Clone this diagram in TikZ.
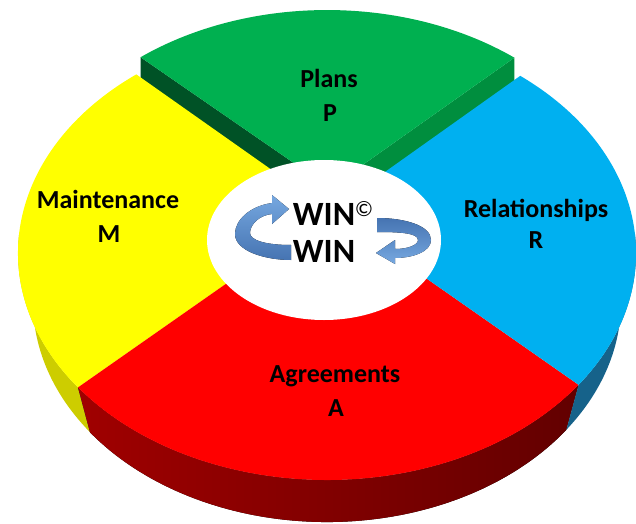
\documentclass[tikz,border=0pt]{standalone}
\usepackage{fontspec}
\setmainfont{Carlito}
\definecolor{pgreen}{RGB}{0,176,80}
\definecolor{pgreenL}{RGB}{0,82,38}
\definecolor{pgreenR}{RGB}{0,142,62}
\definecolor{pyellow}{RGB}{255,255,0}
\definecolor{pyellowS}{RGB}{205,205,0}
\definecolor{pblue}{RGB}{0,176,240}
\definecolor{pblueS}{RGB}{22,98,138}
\definecolor{pred}{RGB}{255,0,0}
\definecolor{predSa}{RGB}{160,0,0}
\definecolor{predSb}{RGB}{98,0,0}
\definecolor{arrL}{RGB}{118,168,224}
\definecolor{arrD}{RGB}{70,116,178}
\begin{document}
\begin{tikzpicture}[x=1pt,y=1pt,
  lbl/.style={font=\fontsize{26}{30}\selectfont\bfseries, anchor=base, inner sep=0pt, text=black},
  winlbl/.style={font=\fontsize{34}{40}\selectfont\bfseries, anchor=base, inner sep=0pt, text=black},
  E/.style={x radius=309pt, y radius=227pt},
  B/.style={x radius=294pt, y radius=220pt},
  G/.style={x radius=305pt, y radius=226pt}]
\useasboundingbox (0,0) rectangle (636,523);
\fill[white] (0,0) rectangle (636,523);
% key points
\coordinate (C) at (330,312);
\coordinate (Cg) at (330,335);
\coordinate (yg) at (136.3,448.6);
\coordinate (yr) at (78.0,135.6);
\coordinate (rb) at (578.6,138.2);
\coordinate (bg) at (520.2,447.2);
\coordinate (gl) at (140.5,465.8);
\coordinate (gr) at (514.4,465.3);
\coordinate (yrB) at (90.1,90.8);
\coordinate (rbB) at (566.3,93.2);
\coordinate (yB) at (34.1,240.2);
\coordinate (bB) at (619.9,240.2);
% side walls
\fill[pyellowS] (yr) arc[E,start angle=216.3,end angle=175] -- (yB) arc[B,start angle=175,end angle=216.3] -- cycle;
\fill[left color=predSa,right color=predSb] (yr) arc[E,start angle=216.3,end angle=324.5] -- (rbB) arc[B,start angle=324.5,end angle=216.3] -- cycle;
\fill[pblueS] (rb) arc[E,start angle=-35.5,end angle=5] -- (bB) arc[B,start angle=5,end angle=-35.5] -- cycle;
% green exploded slice faces
\fill[pgreenL] (gl) -- (Cg) -- (330,300) -- (140.5,430.8) -- cycle;
\fill[pgreenR] (gr) -- (Cg) -- (330,300) -- (514.4,430.3) -- cycle;
\fill[pgreen] (Cg) -- (gr) arc[G,start angle=52.1,end angle=127.7] -- cycle;
% top surfaces
\fill[pyellow] (C) -- (yg) arc[E,start angle=128.1,end angle=216.3] -- cycle;
\fill[pred] (C) -- (yr) arc[E,start angle=216.3,end angle=324.5] -- cycle;
\fill[pblue] (C) -- (rb) arc[E,start angle=-35.5,end angle=51.3] -- cycle;
% centre hub
\fill[white] (324,283) ellipse[x radius=117pt, y radius=80pt];
% arrows
\fill[top color=arrL,bottom color=arrD]
  (272,320) .. controls (250,317) and (235,303) .. (235,289)
  .. controls (235,272) and (265,263) .. (291,263) -- (291,278)
  .. controls (265,278) and (250,283) .. (250,290)
  .. controls (250,299) and (260,308) .. (272,309)
  -- (272,299) -- (289,314) -- (272,328) -- cycle;
\fill[top color=arrD,bottom color=arrL]
  (377,305) .. controls (406,305) and (431,297) .. (431,283)
  .. controls (431,271) and (412,265) .. (395,265)
  -- (395,259) -- (376,270) -- (395,283) -- (395,274)
  .. controls (408,274) and (418,278) .. (418,283)
  .. controls (418,290) and (400,291) .. (377,291) -- cycle;
% labels
\node[lbl] (plans) at (329,435) {Plans};
\node[lbl] (p) at (330,401) {P};
\node[lbl] (maint) at (108,315) {Maintenance};
\node[lbl] (m) at (109,281) {M};
\node[lbl] (rel) at (536,306) {Relationships};
\node[lbl] (r) at (536,275) {R};
\node[lbl] (agr) at (335,141) {Agreements};
\node[lbl] (a) at (336,107) {A};
\node[winlbl] (win1) at (324,298) {WIN};
\node[font=\fontsize{22}{24}\selectfont, inner sep=0pt, text=black] (copy) at (364,314) {©};
\node[winlbl] (win2) at (324,261) {WIN};
\end{tikzpicture}
\end{document}
